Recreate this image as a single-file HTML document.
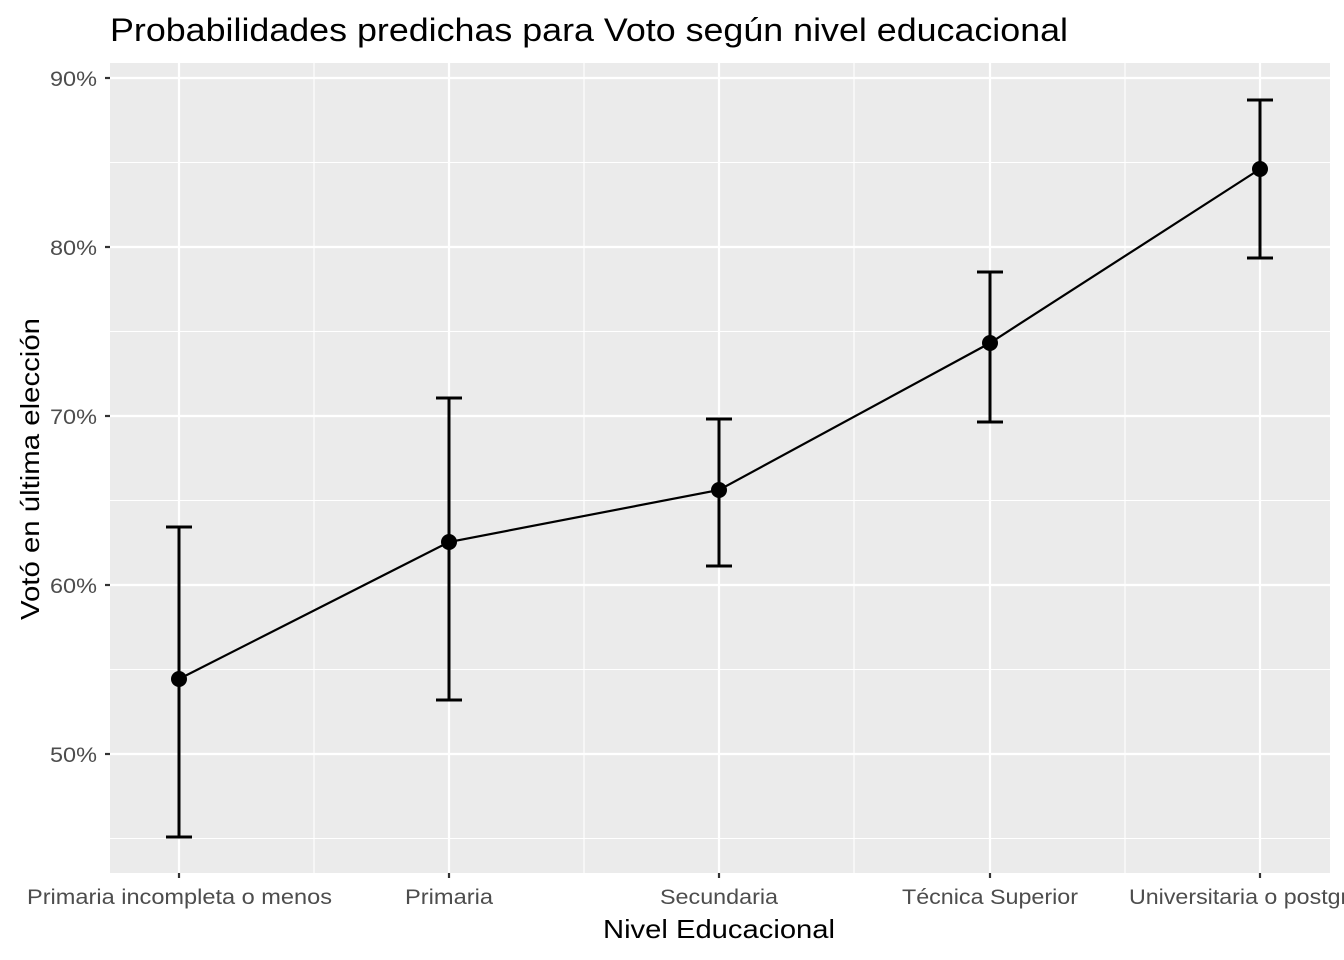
<!DOCTYPE html>
<html><head><meta charset="utf-8"><style>body{margin:0;background:#fff}svg{display:block}</style></head><body>
<svg width="1344" height="960" xmlns="http://www.w3.org/2000/svg" font-family="Liberation Sans, sans-serif">
<rect x="110" y="63" width="1220" height="810" fill="#ebebeb"/>
<g stroke="#fff" stroke-width="1.1">
<line x1="110" x2="1330" y1="162.5" y2="162.5"/><line x1="110" x2="1330" y1="331.5" y2="331.5"/><line x1="110" x2="1330" y1="500.5" y2="500.5"/><line x1="110" x2="1330" y1="669.5" y2="669.5"/><line x1="110" x2="1330" y1="838.5" y2="838.5"/>
<line y1="63" y2="873" x1="314" x2="314"/><line y1="63" y2="873" x1="584" x2="584"/><line y1="63" y2="873" x1="854" x2="854"/><line y1="63" y2="873" x1="1125" x2="1125"/>
</g>
<g stroke="#fff" stroke-width="2.2">
<line x1="110" x2="1330" y1="78" y2="78"/><line x1="110" x2="1330" y1="247" y2="247"/><line x1="110" x2="1330" y1="416" y2="416"/><line x1="110" x2="1330" y1="585" y2="585"/><line x1="110" x2="1330" y1="754" y2="754"/>
<line y1="63" y2="873" x1="179" x2="179"/><line y1="63" y2="873" x1="449" x2="449"/><line y1="63" y2="873" x1="719" x2="719"/><line y1="63" y2="873" x1="990" x2="990"/><line y1="63" y2="873" x1="1260" x2="1260"/>
</g>
<g stroke="#333" stroke-width="2.2">
<line x1="105" x2="110" y1="78" y2="78"/><line x1="105" x2="110" y1="247" y2="247"/><line x1="105" x2="110" y1="416" y2="416"/><line x1="105" x2="110" y1="585" y2="585"/><line x1="105" x2="110" y1="754" y2="754"/>
<line y1="873" y2="878" x1="179" x2="179"/><line y1="873" y2="878" x1="449" x2="449"/><line y1="873" y2="878" x1="719" x2="719"/><line y1="873" y2="878" x1="990" x2="990"/><line y1="873" y2="878" x1="1260" x2="1260"/>
</g>
<g fill="#4d4d4d" font-size="21">
<text x="50" y="86" textLength="47" lengthAdjust="spacingAndGlyphs">90%</text><text x="50" y="255" textLength="47" lengthAdjust="spacingAndGlyphs">80%</text><text x="50" y="424" textLength="47" lengthAdjust="spacingAndGlyphs">70%</text><text x="50" y="593" textLength="47" lengthAdjust="spacingAndGlyphs">60%</text><text x="50" y="762" textLength="47" lengthAdjust="spacingAndGlyphs">50%</text>
</g>
<g fill="#4d4d4d" font-size="21">
<text x="27" y="904" textLength="305" lengthAdjust="spacingAndGlyphs">Primaria incompleta o menos</text>
<text x="405" y="904" textLength="88" lengthAdjust="spacingAndGlyphs">Primaria</text>
<text x="660" y="904" textLength="118" lengthAdjust="spacingAndGlyphs">Secundaria</text>
<text x="902" y="904" textLength="176" lengthAdjust="spacingAndGlyphs">Técnica Superior</text>
<text x="1129" y="904" textLength="258" lengthAdjust="spacingAndGlyphs">Universitaria o postgrado</text>
</g>
<text x="603" y="938" font-size="26" textLength="232" lengthAdjust="spacingAndGlyphs">Nivel Educacional</text>
<text transform="translate(39,620) rotate(-90)" font-size="26" textLength="302" lengthAdjust="spacingAndGlyphs">Votó en última elección</text>
<text x="110" y="41" font-size="32" textLength="958" lengthAdjust="spacingAndGlyphs">Probabilidades predichas para Voto según nivel educacional</text>
<g stroke="#000" stroke-width="3" fill="none">
<path d="M179 527V837M166 527H192M166 837H192"/>
<path d="M449 398V700M436 398H462M436 700H462"/>
<path d="M719 419V566M706 419H732M706 566H732"/>
<path d="M990 272V422M977 272H1003M977 422H1003"/>
<path d="M1260 100V258M1247 100H1273M1247 258H1273"/>
</g>
<polyline points="179,679 449,542 719,490 990,343 1260,169" fill="none" stroke="#000" stroke-width="2.2"/>
<g fill="#000"><circle cx="179" cy="679" r="8"/><circle cx="449" cy="542" r="8"/><circle cx="719" cy="490" r="8"/><circle cx="990" cy="343" r="8"/><circle cx="1260" cy="169" r="8"/></g>
</svg>
</body></html>
